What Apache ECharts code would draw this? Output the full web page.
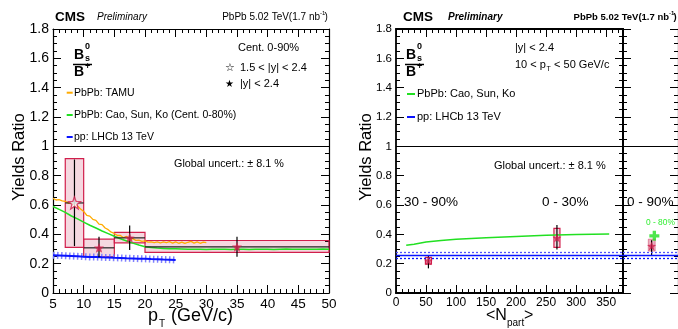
<!DOCTYPE html>
<html>
<head>
<meta charset="utf-8">
<script src="https://cdn.jsdelivr.net/npm/echarts@6/dist/echarts.min.js"></script>
<style>
  html, body { margin: 0; padding: 0; background: #fff; }
  #chart { width: 678px; height: 329px; }
</style>
</head>
<body>
<div id="chart"></div>
<script>
// ---- pT differential ratio (left panel) ----
const ptCenter   = [8.5, 12.5, 17.5, 35];
const ptBinLow   = [7, 10, 15, 20];
const ptBinHigh  = [10, 15, 20, 50];
const ptRatio    = [0.614, 0.308, 0.376, 0.315];
const ptStatLow  = [0.32, 0.243, 0.293, 0.247];
const ptStatHigh = [0.91, 0.383, 0.46, 0.383];
const ptSystLow  = [0.311, 0.247, 0.342, 0.277];
const ptSystHigh = [0.916, 0.367, 0.413, 0.358];

// TAMU model
const tamuPt = [5, 5.5, 6, 6.5, 7, 7.5, 8, 8.5, 9, 9.5, 10, 10.5, 11, 11.5, 12, 12.5, 13, 13.5, 14, 14.5, 15, 15.5, 16, 16.5, 17, 17.5, 18, 18.5, 19, 19.5, 20, 20.5, 21, 21.5, 22, 22.5, 23, 23.5, 24, 24.5, 25, 25.5, 26, 26.5, 27, 27.5, 28, 28.5, 29, 29.5, 30];
const tamuRatio = [0.645, 0.634, 0.636, 0.628, 0.625, 0.612, 0.614, 0.6, 0.594, 0.572, 0.556, 0.53, 0.524, 0.502, 0.495, 0.47, 0.466, 0.443, 0.432, 0.415, 0.406, 0.392, 0.392, 0.377, 0.386, 0.369, 0.371, 0.359, 0.361, 0.352, 0.355, 0.347, 0.349, 0.343, 0.348, 0.341, 0.349, 0.344, 0.35, 0.34, 0.349, 0.339, 0.347, 0.338, 0.346, 0.352, 0.34, 0.349, 0.339, 0.347, 0.343];

// Cao, Sun, Ko model vs pT
const caoPt = [5, 6, 7, 8, 9, 10, 11, 12, 13, 14, 15, 16, 17, 18, 19, 20, 21, 22, 23, 24, 25, 26, 27, 28, 29, 30, 31, 32, 33, 34, 35, 36, 37, 38, 39, 40, 41, 42, 43, 44, 45, 46, 47, 48, 49, 50];
const caoRatio = [0.59, 0.57, 0.55, 0.525, 0.505, 0.483, 0.462, 0.443, 0.423, 0.405, 0.387, 0.37, 0.355, 0.34, 0.327, 0.316, 0.31, 0.306, 0.304, 0.302, 0.301, 0.3, 0.299, 0.298, 0.298, 0.297, 0.299, 0.298, 0.298, 0.297, 0.298, 0.299, 0.297, 0.298, 0.299, 0.298, 0.297, 0.299, 0.3, 0.299, 0.298, 0.299, 0.298, 0.299, 0.3, 0.299];

// LHCb pp 13 TeV
const lhcbPt = [5, 6, 7, 8, 9, 10, 11, 12, 13, 14, 15, 16, 17, 18, 19, 20, 21, 22, 23, 24, 25];
const lhcbRatio = [0.258, 0.256, 0.254, 0.252, 0.25, 0.248, 0.246, 0.245, 0.243, 0.242, 0.24, 0.239, 0.237, 0.236, 0.234, 0.233, 0.231, 0.23, 0.228, 0.227, 0.225];

// ---- Npart dependence (right panel) ----
const npart       = [54, 268];
const npLabels    = ['30 - 90%', '0 - 30%'];
const npRatio     = [0.22, 0.376];
const npStatLow   = [0.168, 0.297];
const npStatHigh  = [0.258, 0.463];
const npSystLow   = [0.197, 0.311];
const npSystHigh  = [0.243, 0.44];

const caoNpart = [17, 30, 50, 75, 100, 150, 200, 250, 300, 355];
const caoNpartRatio = [0.325, 0.333, 0.347, 0.358, 0.366, 0.377, 0.386, 0.393, 0.399, 0.403];

const lhcbInt = 0.258;
const lhcbIntLow = 0.238;
const lhcbIntHigh = 0.281;

// ---- integrated 0-90% ----
const intRatio = 0.32;
const intStat = [0.252, 0.36];
const intSyst = [0.286, 0.367];
const caoInt = 0.39;

const FONT = '"Liberation Sans", Arial, Helvetica, sans-serif';
const RED = '#d11f4c';
const GREEN = '#22e022';
const ORANGE = '#ffab00';
const BLUE = '#0a14ff';
const STAR = 'path://M12,1 L14.9,8.6 L23,8.9 L16.7,14 L18.9,21.8 L12,17.3 L5.1,21.8 L7.3,14 L1,8.9 L9.1,8.6 Z';
const PLUS = 'path://M3,0 H6 V3 H9 V6 H6 V9 H3 V6 H0 V3 H3 Z';

function frameAxis(gridIndex, position, min, max, interval, minorSplit, labelSize, lineWidth) {
  return {
    type: 'value', gridIndex: gridIndex, position: position,
    min: min, max: max, interval: interval,
    axisLine: {show: true, onZero: false, lineStyle: {color: '#000', width: lineWidth}},
    axisTick: {show: true, inside: true, length: 8, lineStyle: {color: '#000', width: 1}},
    minorTick: {show: true, splitNumber: minorSplit, length: 4, lineStyle: {color: '#000', width: 1}},
    splitLine: {show: false},
    axisLabel: {show: labelSize > 0, fontSize: labelSize, fontFamily: FONT, color: '#000', margin: 4}
  };
}

function boxItem(params, api) {
  const p1 = api.coord([api.value(0), api.value(3)]);
  const p2 = api.coord([api.value(1), api.value(2)]);
  return {
    type: 'rect',
    shape: {x: p1[0], y: p1[1], width: p2[0] - p1[0], height: p2[1] - p1[1]},
    style: {fill: 'rgba(205,60,100,0.2)', stroke: RED, lineWidth: 1.2}
  };
}

function errorItem(params, api) {
  const x = api.value(0), y = api.value(5);
  const top = api.coord([x, api.value(2)]);
  const bot = api.coord([x, api.value(1)]);
  const l = api.coord([api.value(3), y]);
  const r = api.coord([api.value(4), y]);
  return {
    type: 'group',
    children: [
      {type: 'line', shape: {x1: top[0], y1: top[1], x2: bot[0], y2: bot[1]}, style: {stroke: '#000', lineWidth: 1.2}},
      {type: 'line', shape: {x1: l[0], y1: l[1], x2: r[0], y2: r[1]}, style: {stroke: '#222', lineWidth: 1.2}}
    ]
  };
}

function txt(x, y, s, size, extra) {
  const style = Object.assign({text: s, fontSize: size, fontFamily: FONT, fill: '#000', verticalAlign: 'middle', align: 'left'}, extra || {});
  return {type: 'text', x: x, y: y, style: style, z: 100};
}
function seg(x1, y1, x2, y2, color, w) {
  return {type: 'line', shape: {x1: x1, y1: y1, x2: x2, y2: y2}, style: {stroke: color, lineWidth: w}, z: 100};
}
function fraction(x) {
  return [
    txt(x, 55, 'B', 14, {fontWeight: 'bold'}),
    txt(x + 11, 47, '0', 9, {fontWeight: 'bold'}),
    txt(x + 11, 59, 's', 9, {fontWeight: 'bold'}),
    seg(x - 1, 64.5, x + 18, 64.5, '#000', 1.5),
    txt(x, 72, 'B', 14, {fontWeight: 'bold'}),
    txt(x + 11, 67, '+', 9, {fontWeight: 'bold'})
  ];
}
function header(xCms, xPre, xEnd, bold) {
  const w = bold ? 'bold' : 'normal';
  return [
    txt(xCms, 17, 'CMS', 13.5, {fontWeight: 'bold'}),
    txt(xPre, 17, 'Preliminary', 10, {fontStyle: 'italic', fontWeight: w}),
    txt(xEnd - 8, 17, 'PbPb 5.02 TeV(1.7 nb', bold ? 9.5 : 10, {align: 'right', fontWeight: w}),
    txt(xEnd - 8, 13, '-1', 6, {fontWeight: w}),
    txt(xEnd - 3.5, 17, ')', bold ? 9.5 : 10, {fontWeight: w})
  ];
}

const chart = echarts.init(document.getElementById('chart'));

const npartBottom = frameAxis(1, 'bottom', 0, 378, 50, 5, 12, 1.8);
npartBottom.axisLabel.showMaxLabel = false;

const option = {
  animation: false,
  backgroundColor: '#fff',
  grid: [
    {left: 53, right: 349, top: 29, bottom: 36},
    {left: 396, right: 55, top: 29, bottom: 36},
    {left: 623, right: -1, top: 29, bottom: 36}
  ],
  xAxis: [
    frameAxis(0, 'bottom', 5, 50, 5, 5, 13.5, 1.2),
    frameAxis(0, 'top', 5, 50, 5, 5, 0, 1.2),
    npartBottom,
    frameAxis(1, 'top', 0, 378, 50, 5, 0, 1.8),
    {type: 'value', gridIndex: 2, min: 0, max: 1, show: false}
  ],
  yAxis: [
    frameAxis(0, 'left', 0, 1.8, 0.2, 4, 14, 1.2),
    frameAxis(0, 'right', 0, 1.8, 0.2, 4, 0, 1.2),
    frameAxis(1, 'left', 0, 1.8, 0.2, 4, 11.5, 1.8),
    frameAxis(1, 'right', 0, 1.8, 0.2, 4, 0, 2),
    frameAxis(2, 'left', 0, 1.8, 0.2, 4, 0, 2),
    frameAxis(2, 'right', 0, 1.8, 0.2, 4, 0, 1.2)
  ],
  series: [
    // left panel
    {
      type: 'custom', xAxisIndex: 0, yAxisIndex: 0, z: 1,
      renderItem: boxItem,
      data: ptBinLow.map((lo, i) => [lo, ptBinHigh[i], ptSystLow[i], ptSystHigh[i]])
    },
    {
      type: 'line', xAxisIndex: 0, yAxisIndex: 0, z: 2, showSymbol: false,
      data: tamuPt.map((x, i) => [x, tamuRatio[i]]),
      lineStyle: {color: ORANGE, width: 1.3}
    },
    {
      type: 'line', xAxisIndex: 0, yAxisIndex: 0, z: 2, showSymbol: false,
      data: caoPt.map((x, i) => [x, caoRatio[i]]),
      lineStyle: {color: GREEN, width: 1.5},
      markLine: {
        silent: true, symbol: 'none', label: {show: false},
        lineStyle: {color: '#000', width: 1.2, type: 'solid'},
        data: [{yAxis: 1}]
      }
    },
    {
      type: 'line', xAxisIndex: 0, yAxisIndex: 0, z: 2, showSymbol: false,
      data: lhcbPt.map((x, i) => [x, lhcbRatio[i]]),
      lineStyle: {color: '#8080ff', width: 7, type: [1.5, 2.5]}
    },
    {
      type: 'line', xAxisIndex: 0, yAxisIndex: 0, z: 3, showSymbol: false,
      data: lhcbPt.map((x, i) => [x, lhcbRatio[i]]),
      lineStyle: {color: BLUE, width: 2}
    },
    {
      type: 'custom', xAxisIndex: 0, yAxisIndex: 0, z: 4,
      renderItem: errorItem,
      data: ptCenter.map((x, i) => [x, ptStatLow[i], ptStatHigh[i], ptBinLow[i], ptBinHigh[i], ptRatio[i]])
    },
    {
      type: 'scatter', xAxisIndex: 0, yAxisIndex: 0, z: 5, symbol: STAR,
      data: ptCenter.map((x, i) => ({
        value: [x, ptRatio[i]],
        symbolSize: i === 0 ? 12 : 10,
        itemStyle: i === 0 ? {color: '#fff', borderColor: RED, borderWidth: 1.3} : {color: RED}
      }))
    },
    // right panel
    {
      type: 'custom', xAxisIndex: 2, yAxisIndex: 2, z: 1,
      renderItem: boxItem,
      data: npart.map((x, i) => [x - 5, x + 5, npSystLow[i], npSystHigh[i]])
    },
    {
      type: 'line', xAxisIndex: 2, yAxisIndex: 2, z: 2, showSymbol: false,
      data: caoNpart.map((x, i) => [x, caoNpartRatio[i]]),
      lineStyle: {color: GREEN, width: 1.5},
      markLine: {
        silent: true, symbol: 'none', label: {show: false},
        lineStyle: {color: '#000', width: 1.2, type: 'solid'},
        data: [
          {yAxis: 1},
          {yAxis: lhcbInt, lineStyle: {color: BLUE, width: 1.3, type: 'solid'}},
          {yAxis: lhcbIntLow, lineStyle: {color: BLUE, width: 1.3, type: [2, 2]}},
          {yAxis: lhcbIntHigh, lineStyle: {color: '#5050ff', width: 1.3, type: [2, 2]}}
        ]
      }
    },
    {
      type: 'custom', xAxisIndex: 2, yAxisIndex: 2, z: 4,
      renderItem: errorItem,
      data: npart.map((x, i) => [x, npStatLow[i], npStatHigh[i], x, x, npRatio[i]])
    },
    {
      type: 'scatter', xAxisIndex: 2, yAxisIndex: 2, z: 5, symbol: STAR, symbolSize: 9,
      itemStyle: {color: RED},
      data: npart.map((x, i) => [x, npRatio[i]])
    },
    // integrated panel
    {
      type: 'custom', xAxisIndex: 4, yAxisIndex: 4, z: 1,
      renderItem: function (params, api) {
        const p1 = api.coord([0.46, api.value(1)]);
        const p2 = api.coord([0.585, api.value(0)]);
        return {
          type: 'rect',
          shape: {x: p1[0], y: p1[1], width: p2[0] - p1[0], height: p2[1] - p1[1]},
          style: {fill: 'rgba(205,60,100,0.4)', stroke: 'rgba(205,60,100,0.5)', lineWidth: 1}
        };
      },
      data: [[intSyst[0], intSyst[1]]]
    },
    {
      type: 'custom', xAxisIndex: 4, yAxisIndex: 4, z: 4,
      renderItem: errorItem,
      data: [[0.52, intStat[0], intStat[1], 0.52, 0.52, intRatio]]
    },
    {
      type: 'scatter', xAxisIndex: 4, yAxisIndex: 4, z: 5, symbol: STAR, symbolSize: 9,
      itemStyle: {color: RED},
      data: [[0.52, intRatio]]
    },
    {
      type: 'scatter', xAxisIndex: 4, yAxisIndex: 4, z: 5, symbol: PLUS, symbolSize: 10,
      itemStyle: {color: GREEN},
      data: [[0.57, caoInt]],
      markLine: {
        silent: true, symbol: 'none', label: {show: false},
        lineStyle: {color: '#000', width: 1.2, type: 'solid'},
        data: [
          {yAxis: 1},
          {yAxis: lhcbInt, lineStyle: {color: BLUE, width: 1.3, type: 'solid'}},
          {yAxis: lhcbIntLow, lineStyle: {color: BLUE, width: 1.3, type: [2, 2]}},
          {yAxis: lhcbIntHigh, lineStyle: {color: '#5050ff', width: 1.3, type: [2, 2]}}
        ]
      }
    }
  ],
  graphic: [].concat(
    header(55, 97, 328, false),
    header(403, 448, 677, true),
    fraction(74),
    fraction(406),
    [
      // left panel texts
      txt(238, 48, 'Cent. 0-90%', 11),
      txt(225, 68, '\u2606', 11),
      txt(240, 68, '1.5 < |y| < 2.4', 11),
      txt(225, 84, '\u2605', 10),
      txt(240, 84, '|y| < 2.4', 11),
      seg(66.7, 92.7, 72.7, 92.7, ORANGE, 2),
      txt(74, 93, 'PbPb: TAMU', 10.5),
      seg(66.7, 115, 72.7, 115, GREEN, 2),
      txt(74, 115, 'PbPb: Cao, Sun, Ko (Cent. 0-80%)', 10.5),
      seg(66.7, 137, 72.7, 137, BLUE, 2),
      txt(74, 137, 'pp: LHCb 13 TeV', 10.5),
      txt(174, 164, 'Global uncert.: \u00b1 8.1 %', 10.8),
      txt(19, 157, 'Yields Ratio', 16.5, {align: 'center'}),
      txt(148, 316, 'p', 18),
      txt(159, 324, 'T', 10),
      txt(166, 316, ' (GeV/c)', 18),
      // right panel texts
      txt(515, 48, '|y| < 2.4', 11),
      txt(515, 65, '10 < p', 11),
      txt(546.5, 69, 'T', 7),
      txt(551, 65, ' < 50 GeV/c', 11),
      seg(407, 94, 415, 94, GREEN, 2),
      txt(417, 94, 'PbPb: Cao, Sun, Ko', 11),
      seg(407, 117, 415, 117, BLUE, 2),
      txt(417, 117, 'pp: LHCb 13 TeV', 11),
      txt(494, 166, 'Global uncert.: \u00b1 8.1 %', 11),
      txt(404, 202, npLabels[0], 13.5),
      txt(542, 202, npLabels[1], 13.5),
      txt(627, 202, '0 - 90%', 13.5),
      txt(646, 223, '0 - 80%', 8.4, {fill: '#33ee33'}),
      txt(366, 157, 'Yields Ratio', 16.5, {align: 'center'}),
      txt(486, 316, '<N', 16),
      txt(507, 323, 'part', 10),
      txt(524, 316, '>', 16)
    ]
  )
};

// rotate the y titles
option.graphic.forEach(function (g) {
  if (g.style && g.style.text === 'Yields Ratio') g.rotation = Math.PI / 2;
});

chart.setOption(option);
</script>
</body>
</html>
